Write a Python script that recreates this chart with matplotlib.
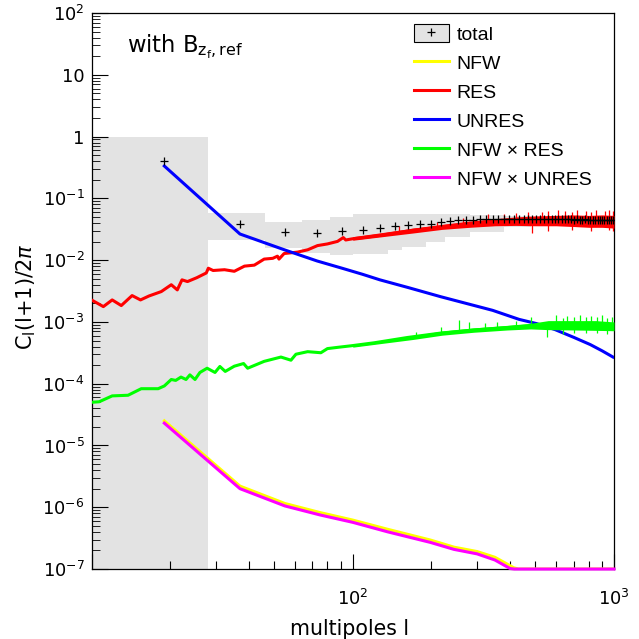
import numpy as np
import matplotlib
matplotlib.use('Agg')
import matplotlib.pyplot as plt
from matplotlib.patches import Patch
from matplotlib.lines import Line2D
from matplotlib.legend_handler import HandlerTuple
from matplotlib.ticker import FixedLocator, FixedFormatter, LogLocator, NullFormatter

plt.rcParams['font.family'] = ['DejaVu Sans']
plt.rcParams['mathtext.fontset'] = 'dejavusans'

# total: binned in l (width 18, from l=10), grey band + crosses
tot_edges = np.arange(10, 1001, 18)
tot_v = [0.41, 0.039, 0.029, 0.028, 0.030, 0.031, 0.033, 0.0355, 0.037, 0.0385,
         0.039, 0.0415, 0.043, 0.044, 0.0445, 0.045, 0.0455, 0.046, 0.046, 0.0455,
         0.046, 0.046, 0.0465, 0.046, 0.046, 0.0465, 0.046, 0.046, 0.0465, 0.046,
         0.046, 0.046, 0.0455, 0.046, 0.046, 0.0455, 0.046, 0.0455, 0.045, 0.0455,
         0.045, 0.045, 0.0455, 0.045, 0.045, 0.045, 0.0445, 0.045, 0.045, 0.0445,
         0.045, 0.0445, 0.045, 0.0445, 0.044]
band_x = [10, 28, 46, 64, 82, 100, 136, 154, 190, 226, 280, 380, 480, 1000]
band_lo = [1e-8, 0.021, 0.016, 0.0131, 0.0122, 0.0128, 0.0145, 0.0165, 0.0197,
           0.0237, 0.0285, 0.034, 0.040]
band_hi = [1.0, 0.057, 0.042, 0.0445, 0.050, 0.056, 0.056, 0.056, 0.056, 0.056,
           0.054, 0.051, 0.048]

# RES (per multipole, noisy)
res_l = [10, 11.1, 12, 13, 14.3, 15.4, 16.6, 18.5, 20.2, 21.3, 22.2, 23.3, 25.3,
         27.5, 28, 29.2, 32.3, 35.2, 38.5, 42, 45.8, 49.4, 51.5, 52.2, 54.6, 61.5,
         67.2, 73.3, 80, 87.4, 92, 94, 100, 110, 130, 150, 170, 200, 230, 270,
         310, 350, 400, 450, 520, 600, 700, 800, 900, 1000]
res_v = [0.00227, 0.00177, 0.00227, 0.00184, 0.00267, 0.00227, 0.00263, 0.0031,
         0.0040, 0.0033, 0.0048, 0.0045, 0.0052, 0.0062, 0.0074, 0.0068, 0.0070,
         0.0066, 0.0080, 0.0083, 0.0104, 0.0107, 0.0116, 0.0104, 0.0128, 0.0135,
         0.0147, 0.0172, 0.0183, 0.0201, 0.0232, 0.0212, 0.0222, 0.0232, 0.0255,
         0.028, 0.0305, 0.033, 0.0355, 0.038, 0.040, 0.042, 0.043, 0.044, 0.0445,
         0.0445, 0.044, 0.043, 0.043, 0.042]
res_env_l = [100, 130, 170, 220, 280, 350, 420, 500, 600, 700, 800, 900, 1000]
res_env_lo = [0.021, 0.024, 0.0275, 0.0315, 0.034, 0.036, 0.0365, 0.036, 0.036,
              0.035, 0.034, 0.034, 0.033]
res_env_hi = [0.024, 0.028, 0.033, 0.038, 0.043, 0.047, 0.050, 0.052, 0.053,
              0.054, 0.053, 0.054, 0.053]
res_spk_l = [150, 210, 265, 330, 380, 420, 470, 485, 530, 560, 610, 650, 690, 720,
             780, 820, 850, 920, 960, 990]
res_spk_lo = [0.027, 0.032, 0.036, 0.040, 0.040, 0.040, 0.038, 0.0275, 0.040, 0.030,
              0.040, 0.040, 0.031, 0.041, 0.040, 0.030, 0.040, 0.039, 0.031, 0.030]
res_spk_hi = [0.036, 0.042, 0.049, 0.055, 0.056, 0.058, 0.060, 0.046, 0.061, 0.062,
              0.064, 0.062, 0.060, 0.066, 0.063, 0.061, 0.065, 0.063, 0.064, 0.062]

# UNRES (binned)
unres_l = [19, 37, 55, 73, 91, 109, 127, 163, 217, 271, 343, 433, 505, 595, 703,
           811, 901, 991]
unres_v = [0.334, 0.0265, 0.0146, 0.0097, 0.0074, 0.0059, 0.0048, 0.0036, 0.00256,
           0.0020, 0.00154, 0.0011, 0.00094, 0.00075, 0.00056, 0.00043, 0.00034,
           0.00027]

# NFW x RES (per multipole, noisy)
nr_l = [10, 10.7, 12, 13.8, 15.5, 18, 19, 20.2, 21, 22, 23, 23.8, 24.9, 26, 27.7,
        29.7, 31, 32.5, 35.2, 38.2, 39.6, 45.8, 53.1, 58, 60.6, 67.2, 75.5, 80,
        88.6, 98.2, 121, 162, 217, 290, 390, 520, 700, 850, 1000]
nr_v = [5.0e-5, 5.1e-5, 6.35e-5, 6.5e-5, 8.3e-5, 8.3e-5, 9.2e-5, 1.17e-4, 1.13e-4,
        1.28e-4, 1.17e-4, 1.39e-4, 1.17e-4, 1.52e-4, 1.78e-4, 1.52e-4, 1.9e-4,
        1.58e-4, 1.92e-4, 2.12e-4, 1.78e-4, 2.3e-4, 2.7e-4, 2.4e-4, 3.0e-4, 3.3e-4,
        3.17e-4, 3.7e-4, 3.9e-4, 4.1e-4, 4.6e-4, 5.6e-4, 6.6e-4, 7.4e-4, 8.1e-4,
        8.9e-4, 8.9e-4, 8.8e-4, 8.6e-4]
nr_env_l = [100, 130, 170, 220, 290, 390, 480, 560, 700, 850, 1000]
nr_env_lo = [3.9e-4, 4.5e-4, 5.2e-4, 6.1e-4, 6.8e-4, 7.4e-4, 7.7e-4, 7.5e-4, 7.4e-4,
             7.3e-4, 7.2e-4]
nr_env_hi = [4.3e-4, 5.0e-4, 6.0e-4, 7.1e-4, 8.0e-4, 8.8e-4, 9.5e-4, 1.05e-3, 1.05e-3,
             1.05e-3, 1.0e-3]
nr_spk_l = [174, 217, 254, 278, 320, 357, 420, 480, 555, 600, 640, 660, 700, 740, 780,
            820, 860, 900, 940, 980]
nr_spk_lo = [5.6e-4, 6.4e-4, 6.9e-4, 7.1e-4, 7.5e-4, 7.8e-4, 7.8e-4, 8.0e-4, 5.8e-4,
             8.0e-4, 6.4e-4, 8.0e-4, 6.5e-4, 8.0e-4, 6.6e-4, 8.0e-4, 6.5e-4, 7.9e-4,
             6.4e-4, 7.8e-4]
nr_spk_hi = [6.9e-4, 8.3e-4, 1.07e-3, 1.0e-3, 9.6e-4, 1.0e-3, 1.05e-3, 1.2e-3, 9.5e-4,
             1.3e-3, 1.15e-3, 1.25e-3, 1.2e-3, 1.3e-3, 1.2e-3, 1.25e-3, 1.2e-3, 1.3e-3,
             1.15e-3, 1.2e-3]

# NFW and NFW x UNRES (binned, floor at 1e-7)
nfw_l = [19, 37, 55, 75, 100, 136, 198, 244, 299, 350, 413, 430, 1000]
nfw_v = [2.5e-5, 2.2e-6, 1.15e-6, 8.2e-7, 6.2e-7, 4.4e-7, 2.95e-7, 2.26e-7, 1.92e-7,
         1.55e-7, 1.05e-7, 1e-7, 1e-7]
nu_l = [19, 37, 55, 75, 100, 136, 198, 244, 299, 350, 400, 415, 1000]
nu_v = [2.3e-5, 2.0e-6, 1.05e-6, 7.5e-7, 5.7e-7, 4.0e-7, 2.7e-7, 2.08e-7, 1.76e-7,
        1.4e-7, 1.02e-7, 1e-7, 1e-7]

fig = plt.figure(figsize=(6.39, 6.39), dpi=100)
ax = fig.add_axes([0.1432, 0.1095, 0.8177, 0.8701])

grey = '#e3e3e3'
ax.stairs(band_hi, band_x, baseline=band_lo, fill=True, color=grey, lw=0, zorder=1)

lw = 2.2
ax.plot(nfw_l, nfw_v, color='#ffff00', lw=lw, zorder=3)
ax.fill_between(res_env_l, res_env_lo, res_env_hi, color='red', lw=0, zorder=3)
ax.vlines(res_spk_l, res_spk_lo, res_spk_hi, color='red', lw=0.9, zorder=3)
ax.plot(res_l, res_v, color='red', lw=lw, zorder=3)
ax.plot(unres_l, unres_v, color='#0000ff', lw=lw, zorder=4)
ax.fill_between(nr_env_l, nr_env_lo, nr_env_hi, color='#00ff00', lw=0, zorder=4)
ax.vlines(nr_spk_l, nr_spk_lo, nr_spk_hi, color='#00ff00', lw=0.9, zorder=4)
ax.plot(nr_l, nr_v, color='#00ff00', lw=lw, zorder=4)
ax.plot(nu_l, nu_v, color='#ff00ff', lw=lw, zorder=5, clip_on=False)

centers = (tot_edges[:-1] + tot_edges[1:]) / 2
ax.plot(centers, tot_v, ls='none', marker='+', color='black', ms=6, mew=0.9, zorder=6)

ax.set_xscale('log')
ax.set_yscale('log')
ax.set_xlim(10, 1000)
ax.set_ylim(1e-7, 100)

yt = [1e-7, 1e-6, 1e-5, 1e-4, 1e-3, 1e-2, 1e-1, 1, 10, 100]
ytl = ['$10^{-7}$', '$10^{-6}$', '$10^{-5}$', '$10^{-4}$', '$10^{-3}$',
       '$10^{-2}$', '$10^{-1}$', '1', '10', '$10^{2}$']
ax.yaxis.set_major_locator(FixedLocator(yt))
ax.yaxis.set_major_formatter(FixedFormatter(ytl))
ax.yaxis.set_minor_locator(LogLocator(base=10, subs=np.arange(2, 10), numticks=30))
ax.yaxis.set_minor_formatter(NullFormatter())
ax.xaxis.set_major_locator(FixedLocator([10, 100, 1000]))
ax.xaxis.set_major_formatter(FixedFormatter(['', '$10^{2}$', '$10^{3}$']))
ax.xaxis.set_minor_locator(LogLocator(base=10, subs=np.arange(2, 10), numticks=30))
ax.xaxis.set_minor_formatter(NullFormatter())

ax.tick_params(which='both', direction='in', top=False, right=False, width=0.8)
ax.tick_params(axis='y', which='major', length=11.5, labelsize=12.8, pad=5)
ax.tick_params(axis='y', which='minor', length=5.8, width=0.6)
ax.tick_params(axis='x', which='major', length=10.8, labelsize=12.8, pad=14)
ax.tick_params(axis='x', which='minor', length=5.5)
for s in ax.spines.values():
    s.set_linewidth(0.9)

ax.set_xlabel('multipoles l', fontsize=14.8)
ax.xaxis.set_label_coords(0.494, -0.089)
ax.set_ylabel(r'C$_{\mathrm{l}}$(l+1)/2$\pi$', fontsize=15)
ax.yaxis.set_label_coords(-0.103, 0.49)

fig.text(127 / 639, 1 - 52 / 639, r'with B$_{\mathrm{z_{f},ref}}$', fontsize=16.3,
         va='baseline', ha='left')

handles = [(Patch(facecolor=grey, edgecolor='black', lw=0.8),
            Line2D([], [], ls='none', marker='+', color='black', ms=6, mew=0.9)),
           Line2D([], [], color='#ffff00', lw=lw),
           Line2D([], [], color='red', lw=lw),
           Line2D([], [], color='#0000ff', lw=lw),
           Line2D([], [], color='#00ff00', lw=lw),
           Line2D([], [], color='#ff00ff', lw=lw)]
labels = ['total', 'NFW', 'RES', 'UNRES', 'NFW × RES', 'NFW × UNRES']
ax.legend(handles, labels, loc='upper left', bbox_to_anchor=(0.617, 0.981),
          frameon=False, prop={'family': 'Liberation Sans', 'size': 14},
          handlelength=1.8, handleheight=1.1, handletextpad=0.4, labelspacing=0.47,
          borderpad=0, borderaxespad=0,
          handler_map={tuple: HandlerTuple(ndivide=1, pad=0)})

fig.savefig('out.png', dpi=100)
